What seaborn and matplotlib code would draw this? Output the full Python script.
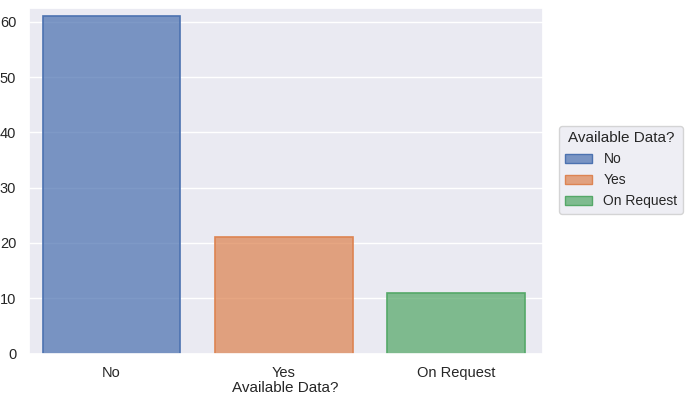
import pandas as pd
import matplotlib.pyplot as plt
import seaborn as sns
from matplotlib.patches import Patch

# --- Data ---
categories = ["No", "Yes", "On Request"]
counts = [61, 21, 11]

df = pd.DataFrame({"Available Data?": categories, "count": counts})

# --- Plot ---
sns.set_theme(style="darkgrid")
plt.rcParams['font.family'] = ['Liberation Sans', 'DejaVu Sans']

fig = plt.figure(figsize=(6.85, 3.95), dpi=100)
ax = fig.add_axes([0.042, 0.105, 0.75, 0.875])

palette = sns.color_palette("deep", 3)
sns.barplot(data=df, x="Available Data?", y="count", hue="Available Data?",
            palette=palette, width=0.8, legend=False, ax=ax, saturation=1)

# translucent fill, solid edge
for patch, c in zip(ax.patches, palette):
    patch.set_alpha(None)
    patch.set_facecolor((*c, 0.72))
    patch.set_edgecolor(c)
    patch.set_linewidth(1.2)

ax.set_ylim(0, 62.5)
ax.set_xlim(-0.48, 2.5)
ax.set_ylabel("")
ax.set_xlabel("Available Data?", fontsize=11, labelpad=1)
ax.tick_params(axis='both', labelsize=10.5, pad=3)

handles = [Patch(facecolor=(*c, 0.72), edgecolor=c, label=l) for c, l in zip(palette, categories)]
fig.legend(handles=handles, title="Available Data?", loc="center left",
           bbox_to_anchor=(0.806, 0.57), fontsize=10, title_fontsize=11,
           frameon=True)

fig.savefig("out.png", dpi=100)
